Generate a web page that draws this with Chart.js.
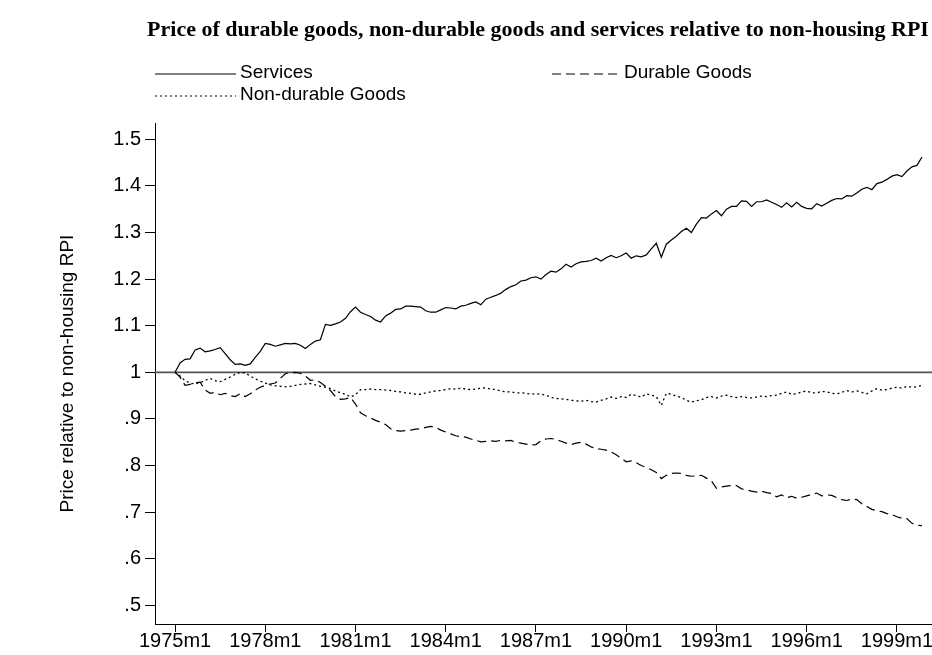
<!DOCTYPE html>
<html>
<head>
<meta charset="utf-8">
<title>Relative prices</title>
<script src="https://cdn.jsdelivr.net/npm/chart.js@4/dist/chart.umd.min.js"></script>
<style>
html, body { margin: 0; padding: 0; background: #fff; }
#myChart { display: block; }
</style>
</head>
<body>
<canvas id="myChart" width="932" height="655"></canvas>
<script>
// monthly series, sampled every 2 months from 1975m1
var startYear = 1975;
var stepMonths = 2;

var services = [
  1.000,1.020,1.028,1.029,1.048,1.052,1.044,1.046,1.049,1.053,
  1.040,1.027,1.017,1.018,1.015,1.018,1.032,1.045,1.062,1.060,
  1.056,1.059,1.062,1.061,1.062,1.058,1.051,1.060,1.067,1.070,
  1.103,1.101,1.104,1.108,1.116,1.130,1.140,1.129,1.124,1.120,
  1.112,1.108,1.121,1.127,1.135,1.136,1.142,1.142,1.141,1.140,
  1.132,1.129,1.129,1.134,1.139,1.138,1.136,1.142,1.144,1.148,
  1.151,1.145,1.157,1.161,1.165,1.170,1.178,1.184,1.188,1.196,
  1.198,1.203,1.205,1.200,1.210,1.217,1.215,1.222,1.232,1.226,
  1.233,1.237,1.238,1.240,1.245,1.239,1.246,1.251,1.246,1.250,
  1.256,1.245,1.250,1.248,1.252,1.265,1.277,1.247,1.275,1.284,
  1.292,1.302,1.309,1.300,1.318,1.332,1.331,1.340,1.347,1.336,
  1.350,1.356,1.356,1.368,1.367,1.356,1.366,1.366,1.370,1.365,
  1.360,1.354,1.364,1.355,1.365,1.356,1.352,1.351,1.362,1.357,
  1.363,1.369,1.373,1.372,1.379,1.378,1.385,1.393,1.397,1.392,
  1.405,1.408,1.414,1.421,1.424,1.420,1.432,1.441,1.444,1.462
];

var durable = [
  1.000,0.990,0.972,0.974,0.978,0.979,0.962,0.955,0.957,0.952,
  0.955,0.950,0.948,0.954,0.948,0.954,0.962,0.968,0.972,0.975,
  0.977,0.987,0.997,0.999,1.000,0.998,0.992,0.983,0.984,0.978,
  0.970,0.961,0.948,0.942,0.943,0.946,0.932,0.913,0.907,0.902,
  0.897,0.893,0.888,0.879,0.875,0.874,0.875,0.876,0.878,0.879,
  0.882,0.884,0.882,0.876,0.872,0.868,0.864,0.862,0.861,0.857,
  0.854,0.851,0.852,0.853,0.852,0.854,0.853,0.854,0.850,0.848,
  0.846,0.844,0.845,0.853,0.857,0.858,0.856,0.852,0.848,0.845,
  0.848,0.850,0.846,0.840,0.836,0.835,0.833,0.829,0.823,0.816,
  0.808,0.810,0.806,0.800,0.796,0.791,0.785,0.772,0.779,0.783,
  0.784,0.783,0.779,0.777,0.778,0.779,0.773,0.767,0.751,0.754,
  0.756,0.757,0.757,0.750,0.748,0.745,0.743,0.745,0.742,0.740,
  0.733,0.737,0.731,0.734,0.730,0.732,0.735,0.738,0.741,0.735,
  0.737,0.736,0.731,0.727,0.725,0.728,0.727,0.718,0.712,0.706,
  0.703,0.701,0.697,0.695,0.690,0.687,0.686,0.676,0.672,0.671
];

var nonDurable = [
  1.000,0.992,0.982,0.977,0.975,0.978,0.983,0.987,0.982,0.980,
  0.985,0.990,0.996,1.000,0.999,0.992,0.986,0.981,0.977,0.973,
  0.971,0.970,0.969,0.970,0.972,0.974,0.975,0.976,0.973,0.970,
  0.968,0.965,0.960,0.956,0.953,0.947,0.952,0.963,0.963,0.964,
  0.963,0.963,0.962,0.961,0.959,0.958,0.956,0.955,0.953,0.953,
  0.956,0.958,0.960,0.961,0.963,0.965,0.964,0.966,0.964,0.963,
  0.964,0.966,0.967,0.964,0.963,0.960,0.958,0.958,0.956,0.956,
  0.955,0.953,0.954,0.953,0.951,0.946,0.944,0.943,0.942,0.940,
  0.939,0.938,0.940,0.937,0.936,0.940,0.943,0.947,0.944,0.948,
  0.946,0.953,0.950,0.947,0.954,0.951,0.948,0.929,0.955,0.953,
  0.949,0.946,0.940,0.936,0.939,0.941,0.946,0.948,0.945,0.949,
  0.951,0.948,0.946,0.948,0.946,0.945,0.947,0.949,0.948,0.950,
  0.951,0.955,0.958,0.953,0.954,0.958,0.960,0.956,0.956,0.959,
  0.958,0.955,0.954,0.957,0.961,0.958,0.960,0.957,0.954,0.960,
  0.965,0.962,0.963,0.966,0.968,0.966,0.970,0.968,0.969,0.972
];

var seriesNames = ["Services", "Durable Goods", "Non-durable Goods"];
var xTickMonths = [0, 36, 72, 108, 144, 180, 216, 252, 288];
var xTickLabels = ["1975m1","1978m1","1981m1","1984m1","1987m1","1990m1","1993m1","1996m1","1999m1"];
var yTicks = [0.5, 0.6, 0.7, 0.8, 0.9, 1.0, 1.1, 1.2, 1.3, 1.4, 1.5];
var yTickLabels = [".5", ".6", ".7", ".8", ".9", "1", "1.1", "1.2", "1.3", "1.4", "1.5"];
var refValue = 1;
var chartTitle = "Price of durable goods, non-durable goods and services relative to non-housing RPI";
var yTitle = "Price relative to non-housing RPI";

function toPoints(vals) {
  var pts = [];
  for (var i = 0; i < vals.length; i++) {
    pts.push({ x: i * stepMonths, y: vals[i] });
  }
  return pts;
}

var sans = '"Liberation Sans", Arial, sans-serif';

// reference line at 1, title and legend
var decor = {
  id: "decor",
  beforeDatasetsDraw: function (chart) {
    var ctx = chart.ctx, a = chart.chartArea;
    var y = chart.scales.y.getPixelForValue(refValue);
    ctx.save();
    ctx.strokeStyle = "#555";
    ctx.lineWidth = 1.6;
    ctx.beginPath();
    ctx.moveTo(a.left, y);
    ctx.lineTo(a.right, y);
    ctx.stroke();
    ctx.restore();
  },
  afterDraw: function (chart) {
    var ctx = chart.ctx, a = chart.chartArea;
    ctx.save();
    ctx.fillStyle = "#000";
    ctx.textBaseline = "middle";
    ctx.font = 'bold 22px "Liberation Serif", "Times New Roman", serif';
    ctx.textAlign = "center";
    ctx.fillText(chartTitle, 538, 30);

    var slots = [
      { x: 155, y: 73, w: 81 },
      { x: 552, y: 73, w: 68 },
      { x: 155, y: 95, w: 81 }
    ];
    ctx.font = "19px " + sans;
    ctx.textAlign = "left";
    chart.data.datasets.forEach(function (ds, i) {
      var s = slots[i];
      ctx.strokeStyle = "#000";
      ctx.lineWidth = 1.2;
      ctx.setLineDash(ds.borderDash || []);
      ctx.beginPath();
      ctx.moveTo(s.x, s.y + 1);
      ctx.lineTo(s.x + s.w, s.y + 1);
      ctx.stroke();
      ctx.setLineDash([]);
      ctx.fillText(ds.label, s.x + s.w + 4, s.y);
    });
    ctx.restore();
  }
};

var ctx = document.getElementById("myChart").getContext("2d");
var config = {
  type: "line",
  data: {
    datasets: [{
      label: seriesNames[0],
      data: toPoints(services),
      borderColor: "#000",
      borderWidth: 1.2,
      borderDash: []
    }, {
      label: seriesNames[1],
      data: toPoints(durable),
      borderColor: "#000",
      borderWidth: 1.2,
      borderDash: [9, 5]
    }, {
      label: seriesNames[2],
      data: toPoints(nonDurable),
      borderColor: "#000",
      borderWidth: 1.3,
      borderDash: [2, 3]
    }]
  },
  options: {
    responsive: false,
    animation: false,
    devicePixelRatio: 1,
    layout: { padding: { top: 123, right: 0, bottom: 0, left: 0 } },
    elements: {
      point: { radius: 0 },
      line: { tension: 0, fill: false }
    },
    plugins: {
      legend: { display: false },
      title: { display: false },
      tooltip: { enabled: false }
    },
    scales: {
      x: {
        type: "linear",
        min: -8,
        max: 302,
        afterFit: function (s) { s.height = 31; },
        afterBuildTicks: function (s) {
          s.ticks = xTickMonths.map(function (v) { return { value: v }; });
        },
        grid: { drawOnChartArea: false, drawTicks: true, tickLength: 8, color: "#000" },
        border: { display: true, color: "#000", width: 1 },
        ticks: {
          autoSkip: false,
          maxRotation: 0,
          padding: -3,
          color: "#000",
          font: { family: sans, size: 20 },
          callback: function (v) {
            var i = xTickMonths.indexOf(v);
            return i >= 0 ? xTickLabels[i] : "";
          }
        }
      },
      y: {
        min: 0.46,
        max: 1.535,
        afterFit: function (s) { s.width = 155; },
        afterBuildTicks: function (s) {
          s.ticks = yTicks.map(function (v) { return { value: v }; });
        },
        grid: { drawOnChartArea: false, drawTicks: true, tickLength: 10, color: "#000" },
        border: { display: true, color: "#000", width: 1 },
        ticks: {
          padding: 4,
          color: "#000",
          font: { family: sans, size: 20 },
          callback: function (v) {
            for (var i = 0; i < yTicks.length; i++) {
              if (Math.abs(yTicks[i] - v) < 1e-9) return yTickLabels[i];
            }
            return "";
          }
        },
        title: {
          display: true,
          text: yTitle,
          color: "#000",
          font: { family: sans, size: 19 },
          padding: { top: 56, bottom: 0 }
        }
      }
    }
  },
  plugins: [decor]
};
var chart = new Chart(ctx, config);
</script>
</body>
</html>
